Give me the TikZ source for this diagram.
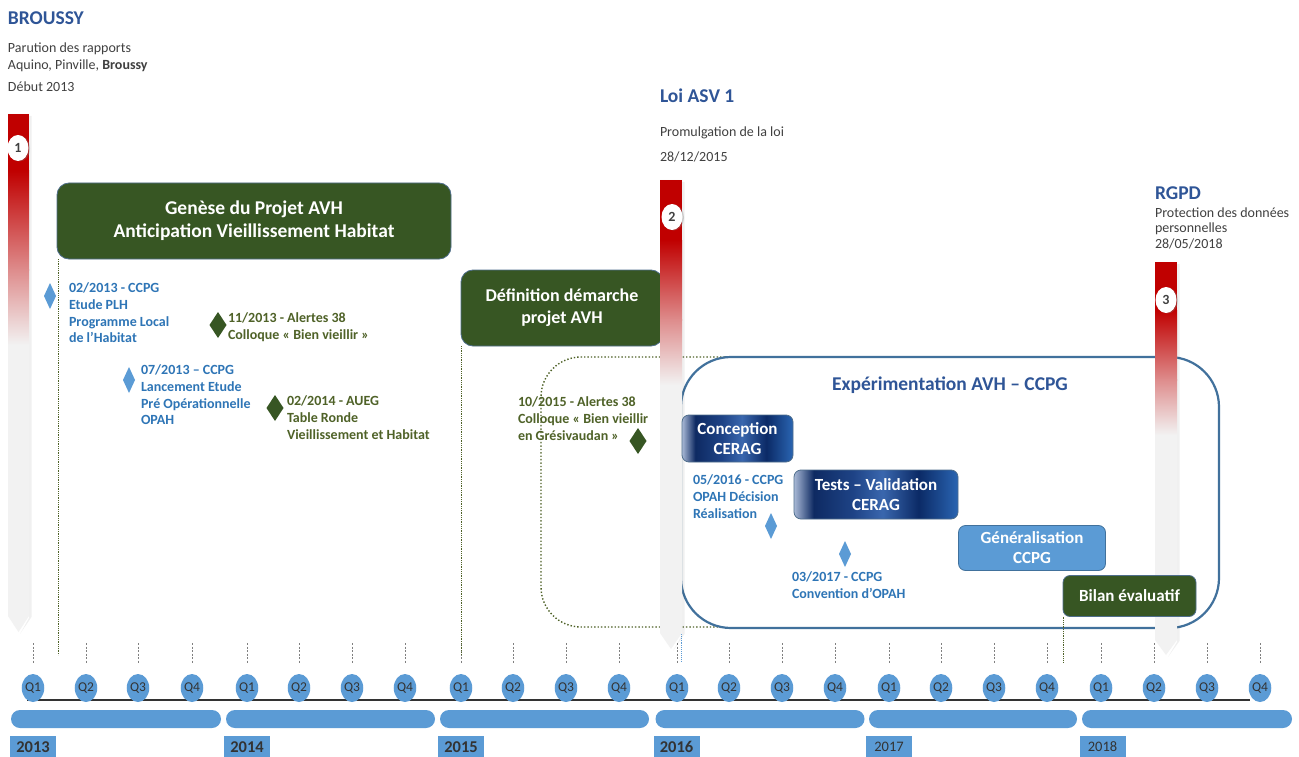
\documentclass[tikz,border=0pt]{standalone}
\usepackage{fontspec}
\setmainfont{Carlito}
\usetikzlibrary{shapes.geometric,shadows}
\definecolor{tblue}{HTML}{2F5597}
\definecolor{lblue}{HTML}{5B9BD5}
\definecolor{bblue}{HTML}{41719C}
\definecolor{bborder}{HTML}{4F6E8C}
\definecolor{dgreen}{HTML}{375623}
\definecolor{olivetxt}{HTML}{4F6228}
\definecolor{txtblue}{HTML}{2E75B6}
\definecolor{gtext}{HTML}{404040}
\definecolor{qtext}{HTML}{333333}
\definecolor{redbar}{HTML}{C00000}
\definecolor{pinkbar}{HTML}{DE8C8C}
\definecolor{graybar}{HTML}{F2F2F2}
\definecolor{cA}{HTML}{A9B9D6}
\definecolor{cB}{HTML}{0E2A62}
\definecolor{cC}{HTML}{1E4386}
\definecolor{cD}{HTML}{3A67AE}
\definecolor{cE}{HTML}{0B2A66}
\definecolor{cF}{HTML}{2A65B2}
\pgfdeclarehorizontalshading{cerag}{100bp}{color(0bp)=(cA); color(25bp)=(cA); color(31bp)=(cB); color(43bp)=(cC); color(52bp)=(cD); color(63bp)=(cE); color(75bp)=(cF); color(100bp)=(cF)}
\tikzset{
  every node/.style={inner sep=0pt, outer sep=0pt},
  hdr/.style={anchor=base west, font=\fontsize{19.5}{23}\selectfont\bfseries, text=tblue},
  sub/.style={anchor=base west, font=\fontsize{14}{17}\selectfont, text=gtext},
  greenbox/.style={draw=bborder, line width=0.8pt, fill=dgreen, rounded corners=12pt, text=white, align=center},
  ceragbox/.style={draw=bborder, line width=0.8pt, shade, shading=cerag, rounded corners=7pt, text=white, align=center, font=\fontsize{17}{20}\selectfont\bfseries},
  lbox/.style={draw=bblue, line width=0.8pt, fill=lblue, rounded corners=7pt, text=white, align=center, font=\fontsize{17}{20}\selectfont\bfseries},
  evblue/.style={anchor=north west, align=left, text=txtblue, font=\fontsize{14}{16.7}\selectfont\bfseries},
  evgreen/.style={anchor=north west, align=left, text=olivetxt, font=\fontsize{14}{16.7}\selectfont\bfseries},
  dmdblue/.style={diamond, fill=lblue, minimum width=12pt, minimum height=26pt},
  dmdgreen/.style={diamond, fill=dgreen, minimum width=17pt, minimum height=26pt},
  numcirc/.style={ellipse, fill=white, minimum width=21pt, minimum height=26pt, text=gtext, font=\fontsize{14}{16}\selectfont\bfseries, drop shadow={shadow xshift=1.5pt, shadow yshift=-0.5pt, opacity=0.35}},
  qnode/.style={ellipse, fill=lblue, minimum width=21pt, minimum height=28pt, text=qtext, font=\fontsize{13.5}{15}\selectfont},
  yearbar/.style={fill=lblue, rounded corners=9pt, minimum height=18pt},
  yearlab/.style={fill=lblue, minimum width=46pt, minimum height=22pt, text=qtext},
  tickline/.style={draw=gray, line width=0.6pt, dash pattern=on 2pt off 1.5pt},
  gdot/.style={draw=olivetxt, line width=0.8pt, densely dotted},
  bigdot/.style={draw=olivetxt, line width=1.4pt, dotted},
  bdot/.style={draw=lblue, line width=0.9pt, densely dotted},
  barshadow/.style={fill=black, opacity=0.06},
}
\begin{document}
\begin{tikzpicture}[x=1pt,y=-1pt]
\useasboundingbox[fill=white] (0,0) rectangle (1299,757);

% ---- headers
\node[hdr] (h1) at (8,25) {BROUSSY};
\node[sub] (h1a) at (8,53) {Parution des rapports};
\node[sub] (h1b) at (8,69.5) {Aquino, Pinville, \textbf{Broussy}};
\node[sub] (h1c) at (8,92) {Début 2013};
\node[hdr] (h2) at (660,103) {Loi ASV 1};
\node[sub] (h2a) at (660,137) {Promulgation de la loi};
\node[sub] (h2b) at (660,162) {28/12/2015};
\node[hdr] (h3) at (1155,200) {RGPD};
\node[sub] (h3a) at (1155,217) {Protection des données};
\node[sub] (h3b) at (1155,233) {personnelles};
\node[sub] (h3c) at (1155,248.5) {28/05/2018};

% ---- axis
\coordinate (axL) at (27,700);
\coordinate (axR) at (1250,700);
\draw[draw=qtext, line width=1.3pt] (axL) -- (axR);
\foreach \x [count=\i from 0] in {33,86,138,192,247,299,352,405,461,513,566,619,677,729,782,835,889,941,994,1047,1101,1154,1207,1260}{
  \pgfmathtruncatemacro\q{mod(\i,4)+1}
  \draw[tickline] (\x,643) -- (\x,663);
  \node[qnode] (q\i) at (\x,688) {Q\q};
}
\node[yearbar, minimum width=210pt] (yb13) at (116,719) {};
\node[yearbar, minimum width=209pt] (yb14) at (330.5,719) {};
\node[yearbar, minimum width=209pt] (yb15) at (544.5,719) {};
\node[yearbar, minimum width=209pt] (yb16) at (760,719) {};
\node[yearbar, minimum width=208pt] (yb17) at (973,719) {};
\node[yearbar, minimum width=210pt] (yb18) at (1187,719) {};
\node[yearlab, font=\fontsize{16.5}{18}\selectfont\bfseries] (y13) at (33,747) {2013};
\node[yearlab, font=\fontsize{16.5}{18}\selectfont\bfseries] (y14) at (247,747) {2014};
\node[yearlab, font=\fontsize{16.5}{18}\selectfont\bfseries] (y15) at (461,747) {2015};
\node[yearlab, font=\fontsize{16.5}{18}\selectfont\bfseries] (y16) at (676.5,747) {2016};
\node[yearlab, font=\fontsize{14.5}{17}\selectfont] (y17) at (889,747) {2017};
\node[yearlab, font=\fontsize{14.5}{17}\selectfont] (y18) at (1102.5,747) {2018};

% ---- milestone bar 1
\fill[barshadow] (29,116) -- (31.5,116) -- (31.5,617) -- (20,634) -- (29,618) -- cycle;
\fill[graybar] (8,114) -- (29,114) -- (29,616) -- (18.5,632) -- (8,616) -- cycle;
\fill[redbar] (8,114) rectangle (29,171);
\shade[top color=redbar, bottom color=pinkbar] (8,170.5) rectangle (29,270);
\shade[top color=pinkbar, bottom color=graybar] (8,269.5) rectangle (29,345);
\node[numcirc] (m1) at (18,148) {1};

% ---- phase boxes
\node[greenbox, minimum width=394pt, minimum height=76pt, font=\fontsize{19.5}{23}\selectfont\bfseries] (genese) at (254,221) {Genèse du Projet AVH\\Anticipation Vieillissement Habitat};
\node[greenbox, minimum width=202pt, minimum height=76pt, font=\fontsize{18}{22}\selectfont\bfseries] (defin) at (562,308) {Définition démarche\\projet AVH};
\coordinate (gEnd) at (58,655);
\coordinate (dEnd) at (461,655);
\draw[gdot] (genese.south west) ++(1,0) |- (gEnd);
\draw[gdot] (defin.south west) -- (dEnd);

% dotted rounded frame
\draw[bigdot, rounded corners=40pt] (820,357) -- (541,357) -- (541,627) -- (820,627);

% experimentation frame
\node[draw=bblue, line width=2.2pt, fill=white, rounded corners=50pt, minimum width=538pt, minimum height=271pt] (exp) at (950,492.5) {};
\node[anchor=base, text=tblue, font=\fontsize{19.5}{23}\selectfont\bfseries] (expt) at (950,390) {Expérimentation AVH – CCPG};
\coordinate (expL) at (681,575);
\coordinate (expE) at (681,662);
\draw[bdot] (expL) -- (expE);

% ---- milestone bar 2
\fill[barshadow] (682,182) -- (684.5,182) -- (684.5,634) -- (673,651) -- (682,635) -- cycle;
\fill[graybar] (660,180) -- (682,180) -- (682,633) -- (671,649) -- (660,633) -- cycle;
\fill[redbar] (660,180) rectangle (682,240.5);
\shade[top color=redbar, bottom color=pinkbar] (660,240) rectangle (682,320);
\shade[top color=pinkbar, bottom color=graybar] (660,319.5) rectangle (682,385);
\node[numcirc] (m2) at (672,217) {2};

% ---- milestone bar 3
\fill[barshadow] (1177,264) -- (1179.5,264) -- (1179.5,641) -- (1168,657) -- (1177,642) -- cycle;
\fill[graybar] (1155,262) -- (1177,262) -- (1177,640) -- (1166,655) -- (1155,640) -- cycle;
\fill[redbar] (1155,262) rectangle (1177,310.5);
\shade[top color=redbar, bottom color=pinkbar] (1155,310) rectangle (1177,380);
\shade[top color=pinkbar, bottom color=graybar] (1155,379.5) rectangle (1177,435);
\node[numcirc] (m3) at (1166,300) {3};

% ---- inner boxes
\node[ceragbox, minimum width=111pt, minimum height=47pt] (concep) at (737.5,438.5) {Conception\\CERAG};
\node[ceragbox, minimum width=164pt, minimum height=49pt] (tests) at (876,494.5) {Tests – Validation\\CERAG};
\node[lbox, minimum width=147pt, minimum height=45pt] (gener) at (1032,548) {Généralisation\\CCPG};
\node[greenbox, rounded corners=7pt, minimum width=133pt, minimum height=41pt, font=\fontsize{17}{20}\selectfont\bfseries] (bilan) at (1129.5,596) {Bilan évaluatif};
\coordinate (bEnd) at (1063,662);
\draw[gdot] (bilan.south west) -- (bEnd);

% ---- events
\node[dmdblue] (d1) at (50,296) {};
\node[evblue] (e1) at (69,283) {02/2013 - CCPG\\Etude PLH\\Programme Local\\de l’Habitat};
\node[dmdgreen] (d2) at (218,325) {};
\node[evgreen] (e2) at (228,313) {11/2013 - Alertes 38\\Colloque « Bien vieillir »};
\node[dmdblue] (d3) at (129,380) {};
\node[evblue] (e3) at (141,365) {07/2013 – CCPG\\Lancement Etude\\Pré Opérationnelle\\OPAH};
\node[dmdgreen] (d4) at (275,408) {};
\node[evgreen] (e4) at (287,396) {02/2014 - AUEG\\Table Ronde\\Vieillissement et Habitat};
\node[dmdgreen] (d5) at (638,441) {};
\node[evgreen] (e5) at (518,397) {10/2015 - Alertes 38\\Colloque « Bien vieillir\\en Grésivaudan »};
\node[dmdblue] (d6) at (771,526) {};
\node[evblue] (e6) at (693,475) {05/2016 - CCPG\\OPAH Décision\\Réalisation};
\node[dmdblue] (d7) at (845,554) {};
\node[evblue] (e7) at (792,572) {03/2017 - CCPG\\Convention d’OPAH};
\end{tikzpicture}
\end{document}
